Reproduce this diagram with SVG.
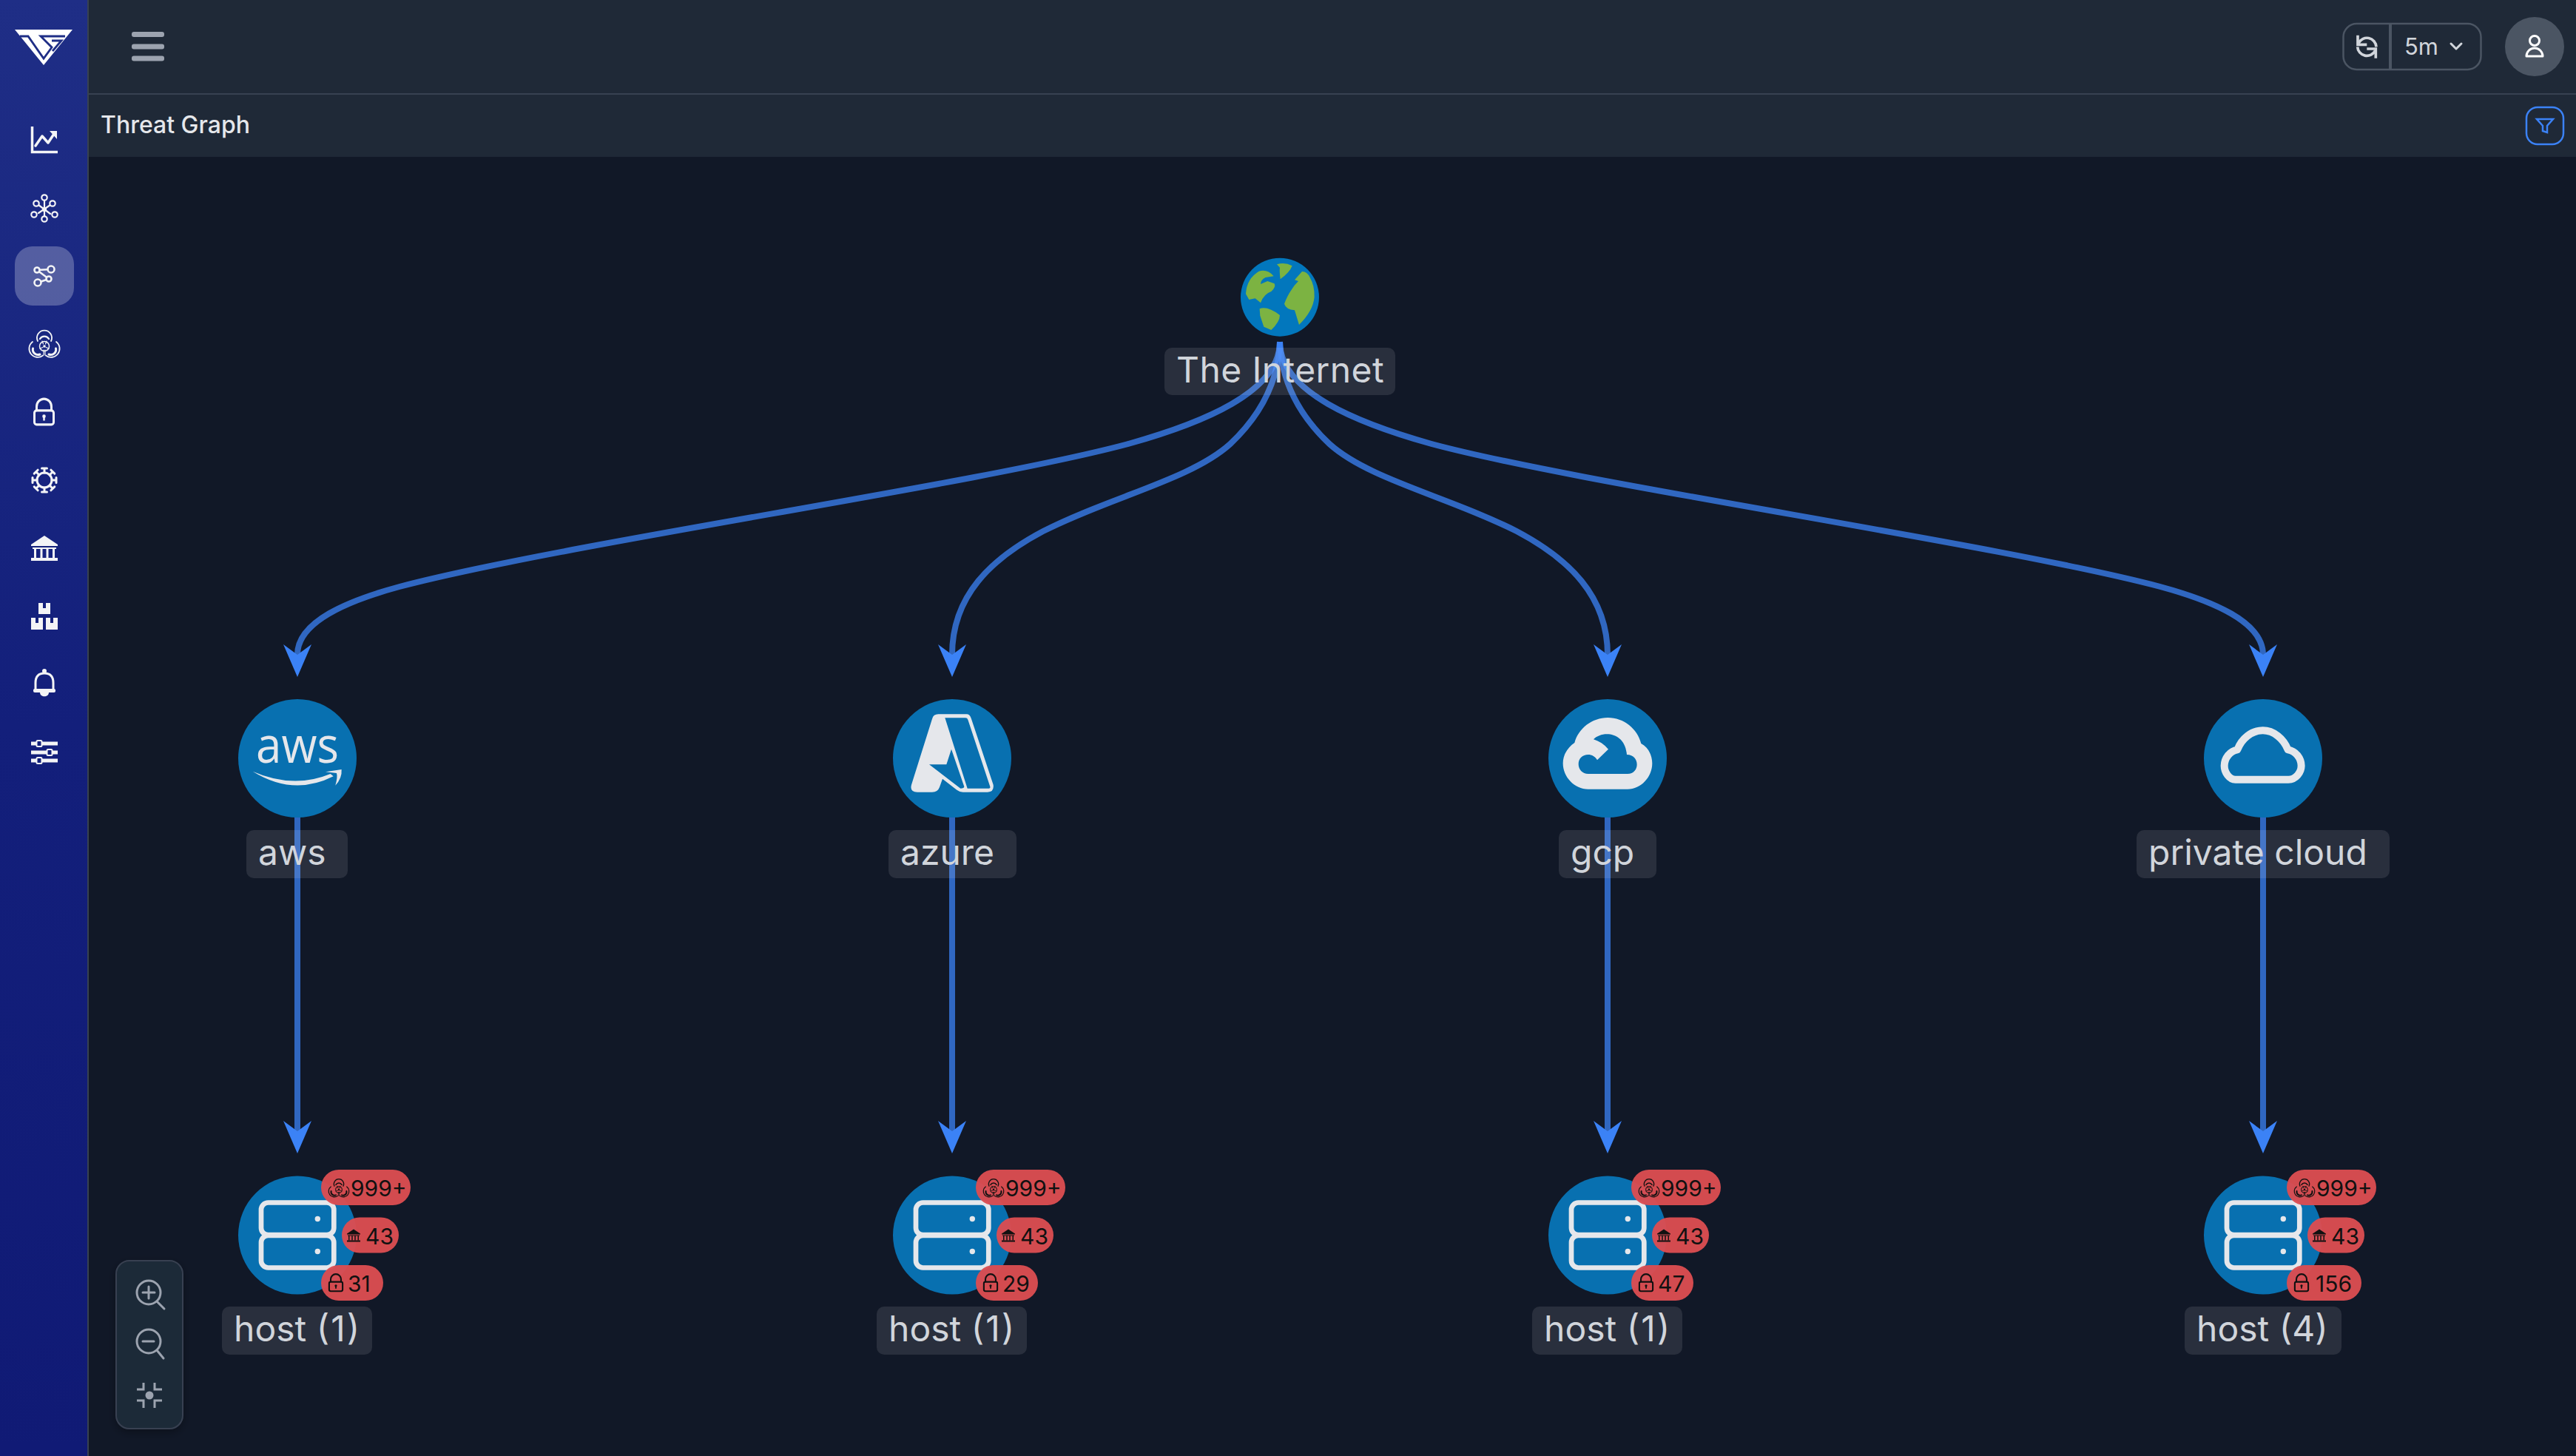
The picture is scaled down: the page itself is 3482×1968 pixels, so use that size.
<svg xmlns="http://www.w3.org/2000/svg" width="3482" height="1968" viewBox="0 0 3482 1968">
<style>
text{font-family:"Inter","Liberation Sans",sans-serif}
.lbl-bg{fill:#fff;fill-opacity:.1}
.lbl{font-size:48px;fill:#d1d5db}
.node{fill:#0870b0}
.ico{fill:#e5e7eb}
.icos{fill:none;stroke:#e5e7eb;stroke-linejoin:round;stroke-linecap:round}
.edge{fill:none;stroke:#3b82f6;stroke-width:8;stroke-opacity:.75;marker-end:url(#arrow)}
.badge{fill:#dc4d51;fill-opacity:.96}
.bt{font-size:30px;fill:#111}
.side{color:#f3f4f6}
.sl{fill:none;stroke:#f3f4f6;stroke-width:3;stroke-linejoin:round;stroke-linecap:round}
.bd{color:#111}
.zi{fill:none;stroke:#9ca3af;stroke-width:3;stroke-linecap:round}
</style>
<defs>
<linearGradient id="sidebar" x1="0" y1="0" x2="0" y2="1"><stop offset="0" stop-color="#1f2e86"/><stop offset=".5" stop-color="#131f7b"/><stop offset="1" stop-color="#101a75"/></linearGradient>
<marker id="arrow" markerUnits="userSpaceOnUse" markerWidth="60" markerHeight="60" refX="16" refY="30" orient="auto" overflow="visible"><path d="M46 30L2 11L16 30L2 49Z" fill="#3b82f6"/></marker>
<filter id="sh" x="-20%" y="-20%" width="140%" height="140%"><feDropShadow dx="0" dy="4" stdDeviation="6" flood-color="#000" flood-opacity=".3"/></filter>
<g id="bio" fill="none" stroke="currentColor" stroke-linecap="round">
<path d="M-9 -4A10 10 0 1 1 9 -4" stroke-width="1.800"/>
<path d="M-6 -7A7 7 0 0 1 6 -7" stroke-width="2.400"/>
<circle cx="0" cy="3" r="6.500" stroke-width="1.500"/>
<circle cx="0" cy="3" r="1.800" fill="currentColor" stroke="none"/>
<path d="M-3 -4L-1.500 0M3 -4L1.500 0M-6 6L-2 4.500M6 6L2 4.500M-1 15L-1 8M1 15L1 8" stroke-width="1.200"/>
<path d="M-16 -3A10 10 0 0 0 -2 15.500" stroke-width="1.800"/>
<path d="M-15.500 6A7 7 0 0 0 -6 14" stroke-width="3"/>
<path d="M16 -3A10 10 0 0 1 2 15.500" stroke-width="1.800"/>
<path d="M15.500 6A7 7 0 0 1 6 14" stroke-width="3"/>
</g>
<g id="bank" fill="currentColor">
<path d="M0 -17L18 -5V-3H-18V-5Z"/><rect x="-16" y="-1" width="32" height="2"/><rect x="-14" y="0" width="3" height="13"/><rect x="-5.500" y="0" width="3" height="13"/><rect x="2.500" y="0" width="3" height="13"/><rect x="11" y="0" width="3" height="13"/><rect x="-18" y="13" width="36" height="4"/>
</g>
<g id="lock" fill="none" stroke="currentColor" stroke-width="3">
<rect x="-13" y="-2" width="26" height="18" rx="3"/><path d="M-10 -2V-7a10 10 0 0 1 20 0V-2"/><circle cx="0" cy="5.500" r="2.300" fill="currentColor" stroke="none"/><path d="M0 6V11" stroke-width="2.500"/>
</g>
<g id="server">
<rect x="-49" y="-44" width="98.300" height="43.700" rx="9.500" class="icos" stroke-width="6.700"/>
<rect x="-49" y="0.300" width="98.300" height="43.700" rx="9.500" class="icos" stroke-width="6.700"/>
<circle cx="27.300" cy="-22" r="3.700" class="ico"/><circle cx="27.300" cy="22" r="3.700" class="ico"/>
</g>
<path id="spike" d="M0 -10V-16M-3.500 -16H3.500" fill="none" stroke="#f3f4f6" stroke-width="3" stroke-linecap="round"/>
</defs>

<rect id="page-bg" width="3482" height="1968" fill="#111827"/>
<rect id="topbar" x="120" y="0" width="3362" height="212" fill="#1f2937"/>
<rect x="120" y="126" width="3362" height="2" fill="#374151"/>
<rect id="sidebar-bg" width="119" height="1968" fill="url(#sidebar)"/>
<rect x="118" width="2" height="1968" fill="#374151"/>

<g id="logo">
<path d="M20 40H98L59 88Z" fill="#fff"/>
<path d="M27 49H38L59 79L70 64L55 49H88M70 55H83L71 69" fill="none" stroke="#1f2e86" stroke-width="2.800"/>
</g>
<g id="nav" class="side">
<g id="nav-chart"><path d="M43.500 171V205.500H78" class="sl" style="stroke-width:3.500;stroke-linecap:butt;stroke-linejoin:miter"/><path d="M48 197L57 184L65 193L73 181" class="sl" style="stroke-width:3.500"/><path d="M67 177H77V188Z" fill="#f3f4f6"/></g>
<g id="nav-network" class="sl" style="stroke-width:2.200"><path d="M60 270V292M52 277L68 289M68 277L52 288"/><circle cx="60" cy="267" r="3.700" fill="#182585"/><circle cx="60" cy="296" r="3.700" fill="#182585"/><circle cx="49" cy="275" r="3.700" fill="#182585"/><circle cx="71" cy="275" r="3.700" fill="#182585"/><circle cx="46" cy="290" r="3.700" fill="#182585"/><circle cx="74" cy="290" r="3.700" fill="#182585"/><circle cx="60" cy="283" r="2" fill="#f3f4f6"/></g>
<rect id="nav-active" x="20" y="333" width="80" height="80" rx="24" fill="#fff" fill-opacity=".25"/>
<g id="nav-graph" class="sl" style="stroke-width:2.600"><path d="M50 365L66 377L51 382M50 365L69 364"/><circle cx="51" cy="382" r="4.500" fill="#4c5798"/><circle cx="69" cy="364" r="4.500" fill="#4c5798"/><circle cx="50" cy="365" r="3.500" fill="#4c5798"/><circle cx="66" cy="377" r="3.500" fill="#4c5798"/></g>
<use href="#bio" x="60" y="465"/>
<use href="#lock" transform="translate(59.500 557) scale(1 1.050)"/>
<g id="nav-virus"><circle cx="60" cy="649" r="10" class="sl"/><use href="#spike" transform="translate(60 649)"/><use href="#spike" transform="translate(60 649) rotate(45)"/><use href="#spike" transform="translate(60 649) rotate(90)"/><use href="#spike" transform="translate(60 649) rotate(135)"/><use href="#spike" transform="translate(60 649) rotate(180)"/><use href="#spike" transform="translate(60 649) rotate(225)"/><use href="#spike" transform="translate(60 649) rotate(270)"/><use href="#spike" transform="translate(60 649) rotate(315)"/></g>
<use href="#bank" x="60" y="741"/>
<g id="nav-boxes" fill="#f3f4f6"><path d="M52 815H58V822H62V815H68V830H52Z"/><path d="M42 835H48V842H52V835H58V851H42Z"/><path d="M62 835H68V842H72V835H78V851H62Z"/></g>
<g id="nav-bell"><path d="M48 932V923C48 914 52 910 60 910C68 910 72 914 72 923V932" class="sl"/><circle cx="60" cy="907" r="3" fill="#f3f4f6"/><rect x="45" y="931" width="30" height="5" rx="2" fill="#f3f4f6"/><path d="M54 936H66C66 943 54 943 54 936Z" fill="#f3f4f6"/></g>
<g id="nav-sliders"><rect x="42" y="1002.500" width="36" height="5" fill="#f3f4f6"/><rect x="42" y="1014.500" width="36" height="5" fill="#f3f4f6"/><rect x="42" y="1025.500" width="36" height="5" fill="#f3f4f6"/><rect x="49.500" y="1001" width="7" height="8" rx="1.500" fill="#12207a" stroke="#f3f4f6" stroke-width="2"/><rect x="63.500" y="1013" width="7" height="8" rx="1.500" fill="#12207a" stroke="#f3f4f6" stroke-width="2"/><rect x="49.500" y="1024" width="7" height="8" rx="1.500" fill="#12207a" stroke="#f3f4f6" stroke-width="2"/></g>
</g>

<g id="hamburger" fill="#9ca3af"><rect x="178" y="43" width="44" height="7" rx="3"/><rect x="178" y="59.500" width="44" height="7" rx="3"/><rect x="178" y="75.500" width="44" height="7" rx="3"/></g>
<text id="title" x="136" y="180" style="font-size:32px;font-weight:500;fill:#e5e7eb">Threat Graph</text>

<g id="refresh-control">
<rect x="3167.500" y="32" width="186" height="62" rx="18" fill="none" stroke="#4b5563" stroke-width="2.500"/>
<rect x="3229" y="32" width="4" height="62" fill="#4b5563"/>
<g transform="translate(3082 0) scale(.3333)" fill="none" stroke="#d1d5db" stroke-width="11"><path d="M318 175A38 38 0 0 1 390 190M386 205A38 38 0 0 1 314 190"/><path d="M315 143V181H352M388 236V198H352"/></g>
<text x="3250" y="74" style="font-size:31px;fill:#d1d5db">5m</text>
<path d="M3313 59L3320 66L3327 59" fill="none" stroke="#d1d5db" stroke-width="3" stroke-linecap="round" stroke-linejoin="round"/>
</g>
<g id="user-button"><circle cx="3426" cy="63" r="40" fill="#4b5563"/><circle cx="3426" cy="55" r="6.500" fill="none" stroke="#fff" stroke-width="3"/><path d="M3415 76A11 11 0 0 1 3437 76Z" fill="none" stroke="#fff" stroke-width="3" stroke-linejoin="round"/></g>
<g id="filter-button"><rect x="3415" y="145" width="50" height="50" rx="15" fill="none" stroke="#3b82f6" stroke-width="2.500"/><path d="M3429 161H3451L3443 170V179L3437 177V170Z" fill="none" stroke="#3b82f6" stroke-width="2.500"/></g>

<g id="connectors">
<path class="edge" d="M1730 462C1730 530 1625 572 1525 600C1320 655 760 735 540 793C470 812 402 840 402 885"/>
<path class="edge" d="M1730 462C1728 520 1700 565 1663 600C1610 648 1500 672 1410 718C1340 755 1287 805 1287 885"/>
<path class="edge" d="M1730 462C1732 520 1760 565 1797 600C1850 648 1960 672 2050 718C2120 755 2173 805 2173 885"/>
<path class="edge" d="M1730 462C1730 530 1835 572 1935 600C2140 655 2700 735 2920 793C2990 812 3059 840 3059 885"/>
<path class="edge" d="M402 1090V1529"/>
<path class="edge" d="M1287 1090V1529"/>
<path class="edge" d="M2173 1090V1529"/>
<path class="edge" d="M3059 1090V1529"/>
</g>

<g id="node-internet">
<g transform="translate(1500 320) scale(.3333)">
<circle cx="690" cy="245" r="159" fill="#0277bd"/>
<g fill="#7cb342">
<path d="M678 112Q710 102 740 118Q730 145 692 172Q688 140 690 125Z"/>
<path d="M780 141Q800 140 812 165Q832 200 830 245Q825 300 768 357L750 298Q715 295 708 272Q720 240 735 218Q745 200 765 180L750 175Z"/>
<path d="M552 232Q555 170 605 140Q640 130 665 160L632 165Q612 175 612 192L640 180L668 190Q675 205 655 222Q625 232 612 268L590 250L565 255Z"/>
<path d="M608 292Q640 280 690 318Q690 345 655 378L625 365L610 320Z"/>
</g></g>
<rect class="lbl-bg" x="1574" y="470" width="312" height="64" rx="10"/>
<text class="lbl" x="1590" y="516.500" letter-spacing=".4">The Internet</text>
</g>

<g id="node-aws">
<circle class="node" cx="402" cy="1025" r="80"/>
<text x="346" y="1031" textLength="112" lengthAdjust="spacingAndGlyphs" style="font-family:'Open Sans',sans-serif;font-size:68px;font-weight:500;fill:#e5e7eb">aws</text>
<g transform="translate(280 880) scale(.3333)" class="ico"><path d="M185 488Q350 590 512 508L500 498Q350 560 185 488Z"/><path d="M480 490L545 480Q548 515 520 545Q530 510 525 495Z"/></g>
<rect class="lbl-bg" x="333" y="1122" width="137" height="65" rx="10"/>
<text class="lbl" x="349" y="1169">aws</text>
</g>

<g id="node-azure">
<circle class="node" cx="1287" cy="1025" r="80"/>
<g transform="translate(1160 900) scale(.3333)">
<path class="ico" d="M325 196H440Q452 196 458 212L548 482Q552 512 525 512H425Q412 512 400 503L342 458L330 492Q323 512 300 512H240Q208 512 216 482L300 215Q305 196 325 196Z"/>
<path class="node" d="M352 211H435Q443 211 445 218L535 490Q537 497 530 497H443L352 211Z"/>
<path class="node" d="M288 400H358L378 338L430 490Q430 497 415 497Z"/>
</g>
<rect class="lbl-bg" x="1201" y="1122" width="173" height="65" rx="10"/>
<text class="lbl" x="1217" y="1169">azure</text>
</g>

<g id="node-gcp">
<circle class="node" cx="2173" cy="1025" r="80"/>
<g transform="translate(2040 900) scale(.3333)">
<path class="ico" fill-rule="evenodd" d="M400 210C465 210 520 255 535 315C565 330 580 365 580 395C580 450 535 500 480 500H320C265 500 218 450 218 395C218 360 238 330 265 312C280 255 335 210 400 210ZM342 298C375 262 470 265 477 360C505 360 518 380 518 400C518 420 505 438 480 438H320C298 438 281 420 281 398C281 375 298 360 320 360C335 360 350 368 357 382L402 338C385 318 365 305 342 298Z"/>
</g>
<rect class="lbl-bg" x="2107" y="1122" width="132" height="65" rx="10"/>
<text class="lbl" x="2123" y="1169">gcp</text>
</g>

<g id="node-private-cloud">
<circle class="node" cx="3059" cy="1025" r="80"/>
<g transform="translate(2860 900) scale(.3333)">
<path class="icos" stroke-width="30" d="M485 461H700C730 461 752 432 752 405C752 375 730 345 698 340C680 295 640 262 596 262C550 262 510 295 493 340C462 345 440 375 440 405C440 432 460 461 485 461Z"/>
</g>
<rect class="lbl-bg" x="2888" y="1122" width="342" height="65" rx="10"/>
<text class="lbl" x="2904" y="1169">private cloud</text>
</g>

<g id="node-host-aws">
<circle class="node" cx="402" cy="1669.500" r="80"/>
<use href="#server" x="402" y="1669.500"/>
<g class="bd">
<rect class="badge" x="434" y="1581" width="121" height="48" rx="24"/><use href="#bio" transform="translate(458 1606) scale(.67)"/><text class="bt" x="474" y="1617">999+</text>
<rect class="badge" x="462" y="1645.500" width="77" height="48" rx="24"/><use href="#bank" transform="translate(478 1670) scale(.5)"/><text class="bt" x="494" y="1682">43</text>
<rect class="badge" x="434" y="1710" width="84" height="48" rx="24"/><use href="#lock" transform="translate(454 1734) scale(.7)"/><text class="bt" x="470" y="1746">31</text>
</g>
<rect class="lbl-bg" x="300" y="1766" width="203" height="65" rx="10"/>
<text class="lbl" x="316" y="1813">host (<tspan dx="2">1</tspan><tspan dx="2">)</tspan></text>
</g>

<g id="node-host-azure" transform="translate(885 0)">
<circle class="node" cx="402" cy="1669.500" r="80"/>
<use href="#server" x="402" y="1669.500"/>
<g class="bd">
<rect class="badge" x="434" y="1581" width="121" height="48" rx="24"/><use href="#bio" transform="translate(458 1606) scale(.67)"/><text class="bt" x="474" y="1617">999+</text>
<rect class="badge" x="462" y="1645.500" width="77" height="48" rx="24"/><use href="#bank" transform="translate(478 1670) scale(.5)"/><text class="bt" x="494" y="1682">43</text>
<rect class="badge" x="434" y="1710" width="84" height="48" rx="24"/><use href="#lock" transform="translate(454 1734) scale(.7)"/><text class="bt" x="470" y="1746">29</text>
</g>
<rect class="lbl-bg" x="300" y="1766" width="203" height="65" rx="10"/>
<text class="lbl" x="316" y="1813">host (<tspan dx="2">1</tspan><tspan dx="2">)</tspan></text>
</g>

<g id="node-host-gcp" transform="translate(1771 0)">
<circle class="node" cx="402" cy="1669.500" r="80"/>
<use href="#server" x="402" y="1669.500"/>
<g class="bd">
<rect class="badge" x="434" y="1581" width="121" height="48" rx="24"/><use href="#bio" transform="translate(458 1606) scale(.67)"/><text class="bt" x="474" y="1617">999+</text>
<rect class="badge" x="462" y="1645.500" width="77" height="48" rx="24"/><use href="#bank" transform="translate(478 1670) scale(.5)"/><text class="bt" x="494" y="1682">43</text>
<rect class="badge" x="434" y="1710" width="84" height="48" rx="24"/><use href="#lock" transform="translate(454 1734) scale(.7)"/><text class="bt" x="470" y="1746">47</text>
</g>
<rect class="lbl-bg" x="300" y="1766" width="203" height="65" rx="10"/>
<text class="lbl" x="316" y="1813">host (<tspan dx="2">1</tspan><tspan dx="2">)</tspan></text>
</g>

<g id="node-host-private" transform="translate(2657 0)">
<circle class="node" cx="402" cy="1669.500" r="80"/>
<use href="#server" x="402" y="1669.500"/>
<g class="bd">
<rect class="badge" x="434" y="1581" width="121" height="48" rx="24"/><use href="#bio" transform="translate(458 1606) scale(.67)"/><text class="bt" x="474" y="1617">999+</text>
<rect class="badge" x="462" y="1645.500" width="77" height="48" rx="24"/><use href="#bank" transform="translate(478 1670) scale(.5)"/><text class="bt" x="494" y="1682">43</text>
<rect class="badge" x="434" y="1710" width="101" height="48" rx="24"/><use href="#lock" transform="translate(454 1734) scale(.7)"/><text class="bt" x="473" y="1746">156</text>
</g>
<rect class="lbl-bg" x="296" y="1766" width="212" height="65" rx="10"/>
<text class="lbl" x="312" y="1813">host (4)</text>
</g>

<g id="zoom-controls">
<rect x="157" y="1704" width="90" height="227" rx="18" fill="#1f2937" stroke="#374151" stroke-width="2" filter="url(#sh)"/>
<g class="zi"><circle cx="201" cy="1747" r="16"/><path d="M212 1759L222 1769M193 1747H209M201 1739V1755"/><circle cx="201" cy="1813" r="16"/><path d="M212 1825L221 1836M193 1813H208"/><path d="M185 1878H194V1869M209 1869V1878H219M185 1893H194V1903M219 1893H209V1903" stroke-linecap="butt"/></g>
<circle cx="202" cy="1886" r="5.500" fill="#9ca3af"/>
</g>
</svg>
